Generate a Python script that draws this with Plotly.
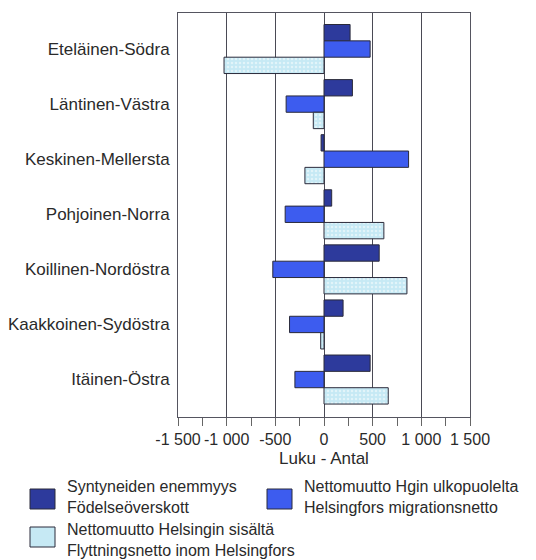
import plotly.graph_objects as go

categories = ["Eteläinen-Södra", "Läntinen-Västra", "Keskinen-Mellersta",
              "Pohjoinen-Norra", "Koillinen-Nordöstra", "Kaakkoinen-Sydöstra",
              "Itäinen-Östra"]
syntyneet = [268, 292, -30, 79, 567, 196, 474]
ulkopuolelta = [474, -389, 869, -399, -526, -354, -299]
sisalta = [-1027, -110, -196, 615, 852, -34, 660]

series_names = [
    ["Syntyneiden enemmyys", "Födelseöverskott"],
    ["Nettomuutto Hgin ulkopuolelta", "Helsingfors migrationsnetto"],
    ["Nettomuutto Helsingin sisältä", "Flyttningsnetto inom Helsingfors"],
]
tick_vals = [-1500, -1000, -500, 0, 500, 1000, 1500]
tick_text = ["-1 500", "-1 000", "-500", "0", "500", "1 000", "1 500"]
axis_title = "Luku - Antal"

colors = ["#2d3a9c", "#3d5cef", "#c6e9f4"]
FONT = "Liberation Sans, Arial, sans-serif"

W, H = 536, 560
L, R, T, B = 178, 66, 13, 143
PW, PH = W - L - R, H - T - B

fig = go.Figure()
for vals, name, col in zip([syntyneet, ulkopuolelta, sisalta], series_names, colors):
    marker = dict(color=col, line=dict(color="#2a2a3a", width=1))
    if col == colors[2]:
        marker["pattern"] = dict(shape=".", fgcolor="#ffffff", bgcolor=col,
                                 size=4, solidity=0.3)
    fig.add_trace(go.Bar(y=categories, x=vals, orientation="h", name=" ".join(name),
                         marker=marker, showlegend=False))

fig.update_layout(
    width=W, height=H,
    margin=dict(l=L, r=R, t=T, b=B, autoexpand=False),
    paper_bgcolor="white", plot_bgcolor="white",
    barmode="group", bargap=0.11, bargroupgap=0,
    font=dict(family=FONT, color="#2a2a2a"),
)
fig.update_xaxes(
    automargin=False,
    range=[-1500, 1500], tickvals=tick_vals, ticktext=tick_text,
    tickfont=dict(size=16), showgrid=True, gridcolor="#4a4a55", gridwidth=1,
    zeroline=False, showline=True, mirror=True, linecolor="#555560", linewidth=1,
    ticks="outside", ticklen=8, tickcolor="#666",
    minor=dict(dtick=250, ticks="outside", ticklen=8, tickcolor="#666", showgrid=False),
    title=dict(text=axis_title, font=dict(size=17), standoff=4),
)
fig.update_yaxes(
    automargin=False,
    type="category", categoryorder="array", categoryarray=categories,
    range=[6.68, -0.654], tickfont=dict(size=17), ticks="", showgrid=False,
    showline=True, mirror=True, linecolor="#555560", linewidth=1,
    ticklabelstandoff=4,
)

def px_x(p):
    return (p - L) / PW

def px_y(p):
    return (T + PH - p) / PH

swatches = [(30, 489), (267, 489), (30, 527)]
text_x = [65, 302, 65]
text_cy = [497, 497, 540]
for (sx, sy), tx, cy, col, name in zip(swatches, text_x, text_cy, colors, series_names):
    fig.add_shape(type="rect", xref="paper", yref="paper",
                  x0=px_x(sx), x1=px_x(sx + 25), y0=px_y(sy), y1=px_y(sy + 20),
                  fillcolor=col, line=dict(color="#2a2a3a", width=1))
    fig.add_annotation(xref="paper", yref="paper", x=px_x(tx), y=px_y(cy),
                       text="<br>".join(name), showarrow=False, xanchor="left",
                       yanchor="middle", align="left",
                       font=dict(size=16, family=FONT, color="#2a2a2a"))

fig.write_html("out.html", config={"displayModeBar": False},
               post_script="document.body.style.margin='0';")
